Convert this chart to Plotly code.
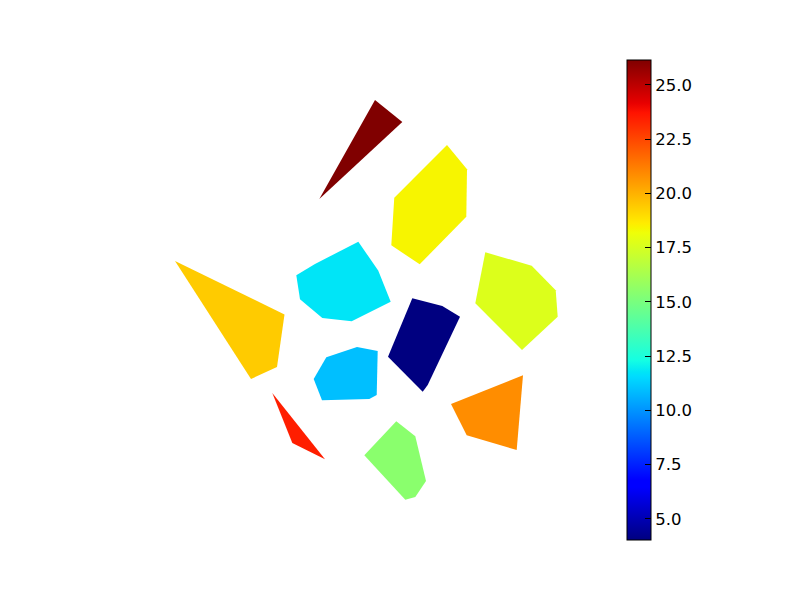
import numpy as np
import plotly.graph_objects as go

# Polygon values (colour variable)
values = [26.15, 18.41, 17.68, 11.77, 4.03, 10.94, 19.4, 23.45, 15.47, 20.85]

# Polygon vertices
poly_x = [
    [375, 402.3, 319.3],
    [447, 467, 466.3, 419.7, 391.3, 394.3],
    [485.3, 531.7, 555.7, 557.7, 522, 475.3],
    [358.3, 378.3, 390.7, 351.7, 322.3, 300, 296.3, 315],
    [412.3, 442.3, 460, 427.7, 422.7, 388],
    [357, 377.7, 376.7, 369.3, 322, 313.7, 326.3],
    [175, 284.5, 277, 251],
    [272.3, 292.3, 325],
    [396.3, 415.3, 426, 415.3, 405.3, 364.3],
    [523, 516.7, 466.7, 451],
]
poly_y = [
    [100, 122, 199],
    [145, 169.3, 216.7, 264.3, 245.3, 197.7],
    [252.3, 265.7, 290.3, 316.7, 350, 303.3],
    [241.7, 270.7, 301.7, 321.3, 318, 299.3, 275.3, 264],
    [298.3, 306, 316.7, 385, 391.7, 356.7],
    [347, 351, 395, 399, 400.3, 379, 357.3],
    [261, 314.5, 367, 379],
    [393, 443, 459.3],
    [421.3, 436.3, 481, 497, 499.7, 455.3],
    [375.3, 450, 435.3, 404],
]

cmin, cmax = 4.03, 26.15
tick_vals = [5, 7.5, 10, 12.5, 15, 17.5, 20, 22.5, 25]
tick_text = ["5.0", "7.5", "10.0", "12.5", "15.0", "17.5", "20.0", "22.5", "25.0"]

# matplotlib-style jet colormap
stops = [0, .11, .125, .34, .35, .375, .64, .65, .66, .89, .91, 1]


def jet(f):
    r = np.interp(f, [0, .35, .66, .89, 1], [0, 0, 1, 1, .5])
    g = np.interp(f, [0, .125, .375, .64, .91, 1], [0, 0, 1, 1, 0, 0])
    b = np.interp(f, [0, .11, .34, .65, 1], [.5, 1, 1, 0, 0])
    return f"rgb({round(r*255)},{round(g*255)},{round(b*255)})"


colorscale = [[s, jet(s)] for s in stops]

fig = go.Figure()
for px, py, v in zip(poly_x, poly_y, values):
    fig.add_trace(go.Scatter(
        x=px + px[:1], y=py + py[:1], mode="lines", fill="toself",
        fillcolor=jet((v - cmin) / (cmax - cmin)), line=dict(width=0),
        hoverinfo="skip", showlegend=False,
    ))

fig.add_trace(go.Scatter(
    x=[None, None], y=[None, None], mode="markers", showlegend=False,
    marker=dict(
        color=[cmin, cmax], cmin=cmin, cmax=cmax, colorscale=colorscale,
        colorbar=dict(
            x=(627 - 8) / 792, xanchor="left", xpad=0, ypad=0,
            y=(600 - 300) / 592, yanchor="middle",
            thicknessmode="pixels", thickness=24,
            lenmode="pixels", len=480,
            outlinecolor="black", outlinewidth=1, borderwidth=0,
            tickmode="array", tickvals=tick_vals, ticktext=tick_text,
            ticks="inside", ticklen=6, tickwidth=1, tickcolor="black",
            tickfont=dict(family="DejaVu Sans", size=16.5, color="black"),
        ),
    ),
))

fig.update_layout(
    width=792, height=592, autosize=False,
    margin=dict(l=0, r=0, t=0, b=0),
    paper_bgcolor="white", plot_bgcolor="white",
    xaxis=dict(range=[8, 800], visible=False, domain=[0, 1]),
    yaxis=dict(range=[600, 8], visible=False, domain=[0, 1]),
)

fig.write_html("out.html")
